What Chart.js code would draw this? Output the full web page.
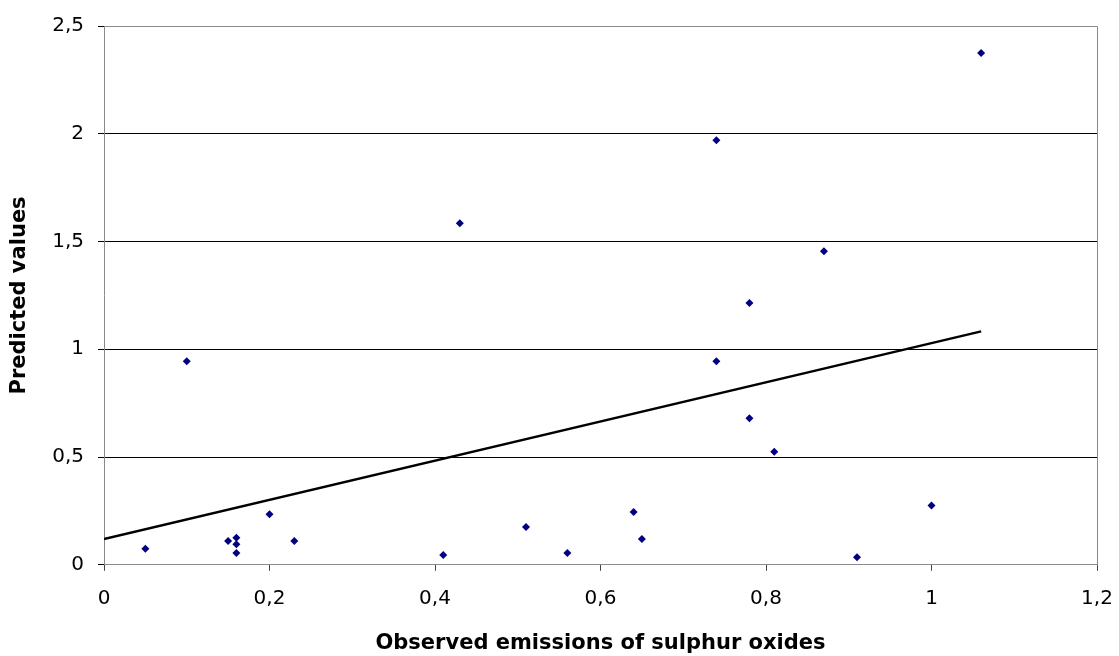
<!DOCTYPE html>
<html>
<head>
<meta charset="utf-8">
<script src="https://cdn.jsdelivr.net/npm/chart.js@4"></script>
<style>
html,body{margin:0;padding:0;background:#fff;}
#wrap{width:1119px;height:656px;position:relative;}
</style>
</head>
<body>
<div id="wrap"><canvas id="c" width="1119" height="656"></canvas></div>
<script>
const observed = [0.05, 0.10, 0.15, 0.16, 0.16, 0.16, 0.20, 0.23, 0.41, 0.43, 0.51, 0.56, 0.64, 0.65, 0.74, 0.74, 0.78, 0.78, 0.81, 0.87, 0.91, 1.00, 1.06];
const predicted = [0.075, 0.945, 0.11, 0.125, 0.095, 0.055, 0.235, 0.11, 0.045, 1.585, 0.175, 0.055, 0.245, 0.12, 1.97, 0.945, 1.215, 0.68, 0.525, 1.455, 0.035, 0.275, 2.375];
const trendX = [0, 1.06];
const trendY = [0.12, 1.083];
const xTicks = [0, 0.2, 0.4, 0.6, 0.8, 1, 1.2];
const yTicks = [0, 0.5, 1, 1.5, 2, 2.5];

const fmt = v => String(Math.round(v * 10) / 10).replace('.', ',');

const frame = {
  id: 'frame',
  afterDraw(chart) {
    const a = chart.chartArea, ctx = chart.ctx;
    ctx.save();
    ctx.strokeStyle = '#8a8a8a';
    ctx.lineWidth = 1;
    ctx.beginPath();
    ctx.moveTo(Math.round(a.left) + 0.5, Math.round(a.top) + 0.5);
    ctx.lineTo(Math.round(a.right) + 0.5, Math.round(a.top) + 0.5);
    ctx.lineTo(Math.round(a.right) + 0.5, Math.round(a.bottom) + 0.5);
    ctx.stroke();
    ctx.restore();
  }
};

const tickFont = {family: 'DejaVu Sans', size: 20};
const titleFont = {family: 'DejaVu Sans', size: 21, weight: 'bold'};

new Chart(document.getElementById('c'), {
  type: 'scatter',
  data: {
    datasets: [
      {
        label: 'Predicted',
        data: observed.map((x, i) => ({x: x, y: predicted[i]})),
        pointStyle: 'rectRot',
        pointRadius: 4,
        backgroundColor: '#000080',
        borderColor: '#000080',
        borderWidth: 0,
        order: 1
      },
      {
        label: 'Trend',
        type: 'line',
        data: trendX.map((x, i) => ({x: x, y: trendY[i]})),
        borderColor: '#000000',
        borderWidth: 2.5,
        pointRadius: 0,
        fill: false,
        order: 2
      }
    ]
  },
  options: {
    responsive: false,
    animation: false,
    devicePixelRatio: 1,
    layout: {padding: {left: 7, right: 0, top: 10, bottom: 0}},
    plugins: {legend: {display: false}, tooltip: {enabled: false}},
    scales: {
      x: {
        type: 'linear', min: 0, max: 1.2,
        afterBuildTicks: s => { s.ticks = xTicks.map(v => ({value: v})); },
        afterFit: s => { s.paddingRight = 22; },
        ticks: {callback: v => fmt(v), color: '#000', font: tickFont, padding: 16, maxRotation: 0},
        grid: {display: true, drawOnChartArea: false, drawTicks: true, tickLength: 6, color: '#444'},
        border: {display: true, color: '#8a8a8a', width: 1},
        title: {display: true, text: 'Observed emissions of sulphur oxides', color: '#000', font: titleFont, padding: {top: 4, bottom: 0}}
      },
      y: {
        type: 'linear', min: 0, max: 2.5,
        afterBuildTicks: s => { s.ticks = yTicks.map(v => ({value: v})); },
        ticks: {callback: v => fmt(v), color: '#000', font: tickFont, padding: 14},
        grid: {display: true, drawOnChartArea: true, drawTicks: true, tickLength: 6, color: '#000', lineWidth: 1},
        border: {display: true, color: '#8a8a8a', width: 1},
        title: {display: true, text: 'Predicted values', color: '#000', font: titleFont, padding: {top: 0, bottom: 6}}
      }
    }
  },
  plugins: [frame]
});
</script>
</body>
</html>
